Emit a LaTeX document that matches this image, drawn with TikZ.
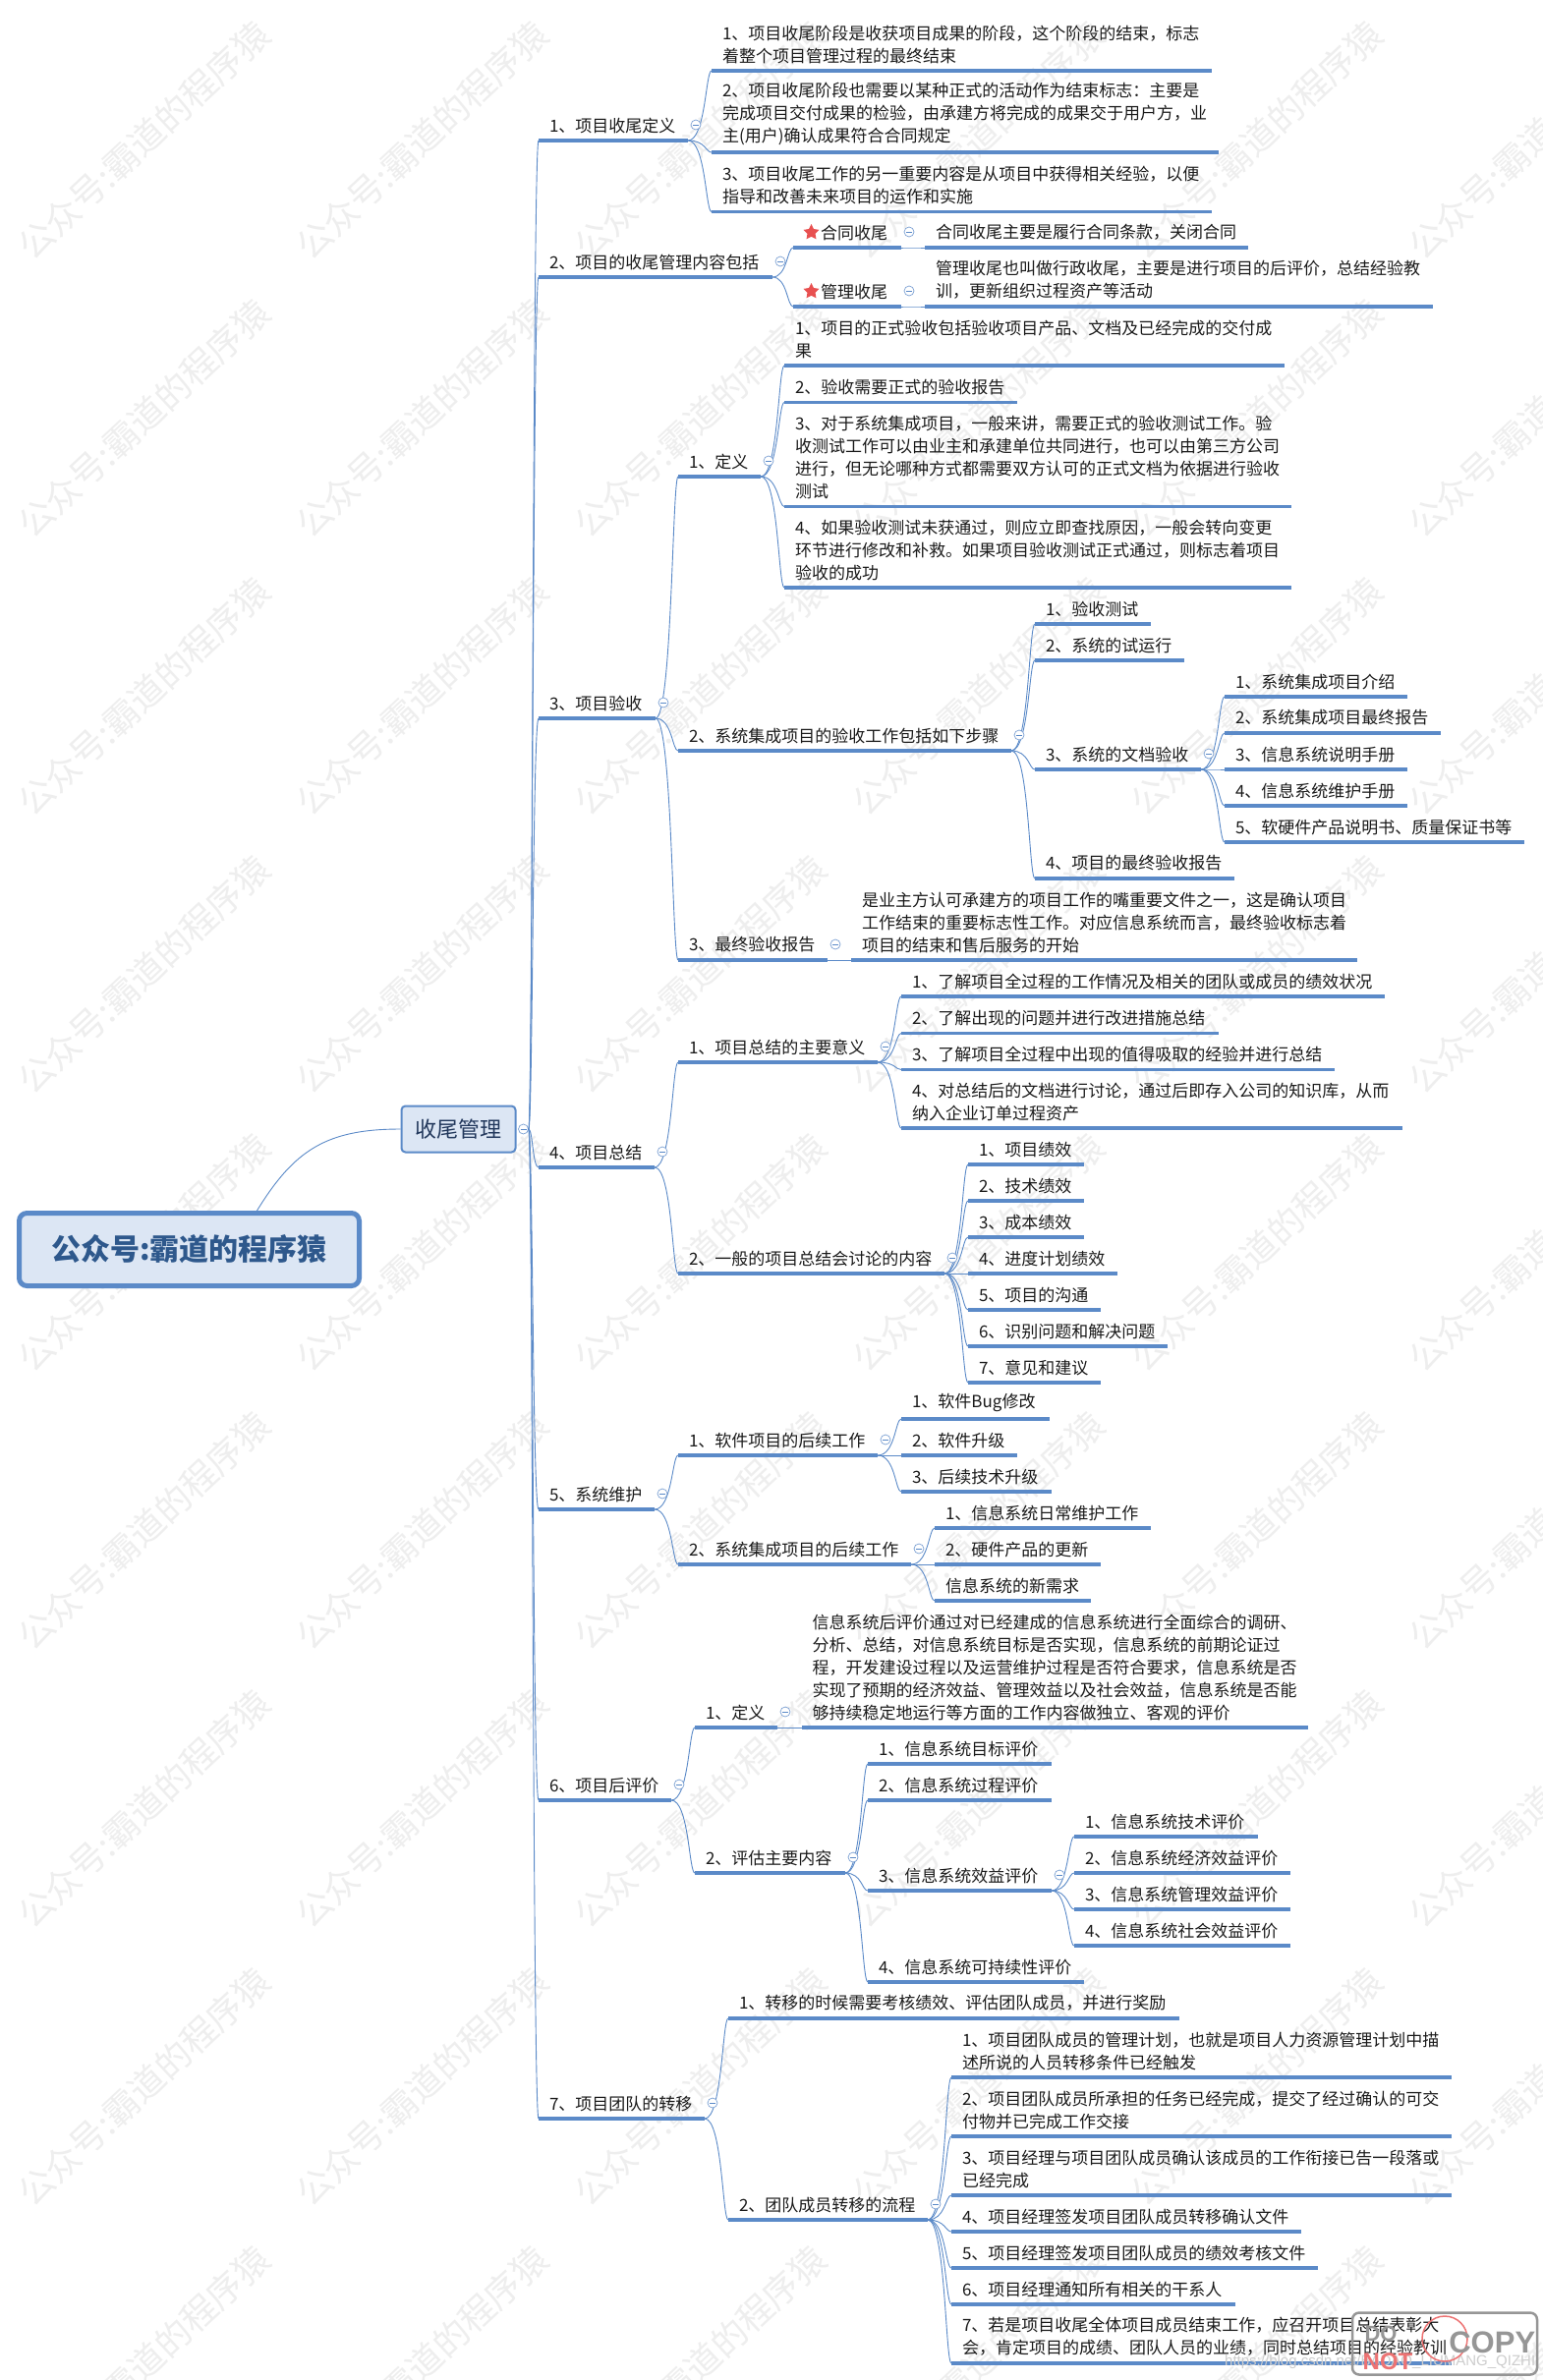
\documentclass[tikz,border=0pt]{standalone}
\usepackage{fontspec}
\usetikzlibrary{calc,shapes.geometric}
\setmainfont{Noto Sans CJK SC}
\newfontfamily\stampfont{Liberation Sans}
\definecolor{ink}{RGB}{26,26,26}
\definecolor{lineblue}{RGB}{91,138,200}
\definecolor{boxfill}{RGB}{220,230,244}
\definecolor{rootink}{RGB}{46,88,140}
\definecolor{boxink}{RGB}{34,56,92}
\definecolor{starred}{RGB}{232,80,80}
\definecolor{markgray}{RGB}{238,238,238}
\definecolor{stampgray}{RGB}{150,150,150}
\definecolor{urlgray}{RGB}{205,205,205}

\begin{document}
\begin{tikzpicture}[x=1pt, y=-1pt, line width=1pt,
  topic/.style={anchor=south west, align=left, inner xsep=11pt, inner ysep=7.5pt, outer sep=0pt, text=ink, font=\fontsize{17}{23}\selectfont},
  uline/.style={draw=lineblue, line width=3.4pt},
  conn/.style={draw=lineblue, line width=0.9pt},
  fold/.style={circle, draw=lineblue!80, fill=white, line width=0.7pt, minimum size=10pt, inner sep=0pt,
    path picture={\draw[lineblue, line width=0.7pt] ([xshift=2pt]path picture bounding box.west) -- ([xshift=-2pt]path picture bounding box.east);}},
  starmark/.style={star, star points=5, star point ratio=2.0, fill=starred, minimum size=17pt, inner sep=0pt},
  wmark/.style={text=markgray, rotate=43, font=\fontsize{36}{36}\selectfont},
]
  \useasboundingbox (0,0) rectangle (1569,2422);
  \fill[white] (0,0) rectangle (1569,2422);
  % watermark tiles
  \foreach \i in {0,...,5}{
    \foreach \j in {0,...,8}{
      \node[wmark] (mark\i\j) at (146+\i*283,143+\j*283) {公众号:霸道的程序猿};
    }
  }
  % centre boxes
  \node[draw=lineblue, line width=5pt, fill=boxfill, rounded corners=8pt, minimum width=346pt, minimum height=74pt,
    text=rootink, font=\fontsize{30}{30}\selectfont\bfseries] (root) at (192.5,1271.5) {公众号:霸道的程序猿};
  \node[draw=lineblue, line width=2pt, fill=boxfill, rounded corners=4pt, minimum width=116pt, minimum height=47pt,
    text=boxink, font=\fontsize{22}{22}\selectfont] (mgmt) at (466.5,1149) {收尾管理};
  \node[fold] (mgmt-fold) at ($(mgmt.east)+(7,0)$) {};
  \draw[conn] ([xshift=69pt]root.north) .. controls +(38,-62) and +(-75,0) .. (mgmt.west);
  % topics: name/left/underline y/right/text
  \foreach \nm/\xl/\yl/\xr/\txt in {
    t1/548/143/700/{1、项目收尾定义},
    t1a/724/72/1233/{1、项目收尾阶段是收获项目成果的阶段，这个阶段的结束，标志\\着整个项目管理过程的最终结束},
    t1b/724/155/1240/{2、项目收尾阶段也需要以某种正式的活动作为结束标志：主要是\\完成项目交付成果的检验，由承建方将完成的成果交于用户方，业\\主(用户)确认成果符合合同规定},
    t1c/724/215.5/1233/{3、项目收尾工作的另一重要内容是从项目中获得相关经验，以便\\指导和改善未来项目的运作和实施},
    t2/548/282/786/{2、项目的收尾管理内容包括},
    t2a/807/252/917/{\hspace*{17pt}合同收尾},
    t2a1/941/252/1270/{合同收尾主要是履行合同条款，关闭合同},
    t2b/807/312/917/{\hspace*{17pt}管理收尾},
    t2b1/941/312/1458/{管理收尾也叫做行政收尾，主要是进行项目的后评价，总结经验教\\训，更新组织过程资产等活动},
    t3/548/731/667/{3、项目验收},
    t3a/690/485/774/{1、定义},
    t3a1/798/372/1307/{1、项目的正式验收包括验收项目产品、文档及已经完成的交付成\\果},
    t3a2/798/409.5/1035/{2、验收需要正式的验收报告},
    t3a3/798/515.5/1314/{3、对于系统集成项目，一般来讲，需要正式的验收测试工作。验\\收测试工作可以由业主和承建单位共同进行，也可以由第三方公司\\进行，但无论哪种方式都需要双方认可的正式文档为依据进行验收\\测试},
    t3a4/798/598/1314/{4、如果验收测试未获通过，则应立即查找原因，一般会转向变更\\环节进行修改和补救。如果项目验收测试正式通过，则标志着项目\\验收的成功},
    t3b/690/764/1029/{2、系统集成项目的验收工作包括如下步骤},
    t3b1/1053/635/1171/{1、验收测试},
    t3b2/1053/672/1205/{2、系统的试运行},
    t3b3/1053/783/1222/{3、系统的文档验收},
    t3b4/1053/894/1256/{4、项目的最终验收报告},
    t3b31/1246/709/1432/{1、系统集成项目介绍},
    t3b32/1246/746/1466/{2、系统集成项目最终报告},
    t3b33/1246/783/1432/{3、信息系统说明手册},
    t3b34/1246/820/1432/{4、信息系统维护手册},
    t3b35/1246/857/1551/{5、软硬件产品说明书、质量保证书等},
    t3c/690/977/842/{3、最终验收报告},
    t3c1/866/977/1381/{是业主方认可承建方的项目工作的嘴重要文件之一，这是确认项目\\工作结束的重要标志性工作。对应信息系统而言，最终验收标志着\\项目的结束和售后服务的开始},
    t4/548/1188/666/{4、项目总结},
    t4a/690/1081/893/{1、项目总结的主要意义},
    t4a1/917/1014/1409/{1、了解项目全过程的工作情况及相关的团队或成员的绩效状况},
    t4a2/917/1051.5/1240/{2、了解出现的问题并进行改进措施总结},
    t4a3/917/1088.5/1358/{3、了解项目全过程中出现的值得吸取的经验并进行总结},
    t4a4/917/1148/1427/{4、对总结后的文档进行讨论，通过后即存入公司的知识库，从而\\纳入企业订单过程资产},
    t4b/690/1296/961/{2、一般的项目总结会讨论的内容},
    t4b1/985/1185/1103/{1、项目绩效},
    t4b2/985/1222/1103/{2、技术绩效},
    t4b3/985/1259/1103/{3、成本绩效},
    t4b4/985/1296/1137/{4、进度计划绩效},
    t4b5/985/1333/1120/{5、项目的沟通},
    t4b6/985/1370/1188/{6、识别问题和解决问题},
    t4b7/985/1407/1120/{7、意见和建议},
    t5/548/1536/666/{5、系统维护},
    t5a/690/1481/893/{1、软件项目的后续工作},
    t5a1/917/1444/1068/{1、软件Bug修改},
    t5a2/917/1481/1035/{2、软件升级},
    t5a3/917/1518/1070/{3、后续技术升级},
    t5b/690/1592/927/{2、系统集成项目的后续工作},
    t5b1/951/1555/1171/{1、信息系统日常维护工作},
    t5b2/951/1592/1120/{2、硬件产品的更新},
    t5b3/951/1629/1110/{信息系统的新需求},
    t6/548/1832/683/{6、项目后评价},
    t6a/707/1758/791/{1、定义},
    t6a1/815.5/1758/1331/{信息系统后评价通过对已经建成的信息系统进行全面综合的调研、\\分析、总结，对信息系统目标是否实现，信息系统的前期论证过\\程，开发建设过程以及运营维护过程是否符合要求，信息系统是否\\实现了预期的经济效益、管理效益以及社会效益，信息系统是否能\\够持续稳定地运行等方面的工作内容做独立、客观的评价},
    t6b/707/1906/860/{2、评估主要内容},
    t6b1/883/1795/1070/{1、信息系统目标评价},
    t6b2/883/1832/1070/{2、信息系统过程评价},
    t6b3/883/1924/1070/{3、信息系统效益评价},
    t6b4/883/2017/1103/{4、信息系统可持续性评价},
    t6b31/1093/1869/1280/{1、信息系统技术评价},
    t6b32/1093/1906/1313/{2、信息系统经济效益评价},
    t6b33/1093/1943/1313/{3、信息系统管理效益评价},
    t6b34/1093/1980/1313/{4、信息系统社会效益评价},
    t7/548/2156/717/{7、项目团队的转移},
    t7a/741/2054/1200/{1、转移的时候需要考核绩效、评估团队成员，并进行奖励},
    t7b/741/2259/944/{2、团队成员转移的流程},
    t7b1/968/2114/1477/{1、项目团队成员的管理计划，也就是项目人力资源管理计划中描\\述所说的人员转移条件已经触发},
    t7b2/968/2174/1477/{2、项目团队成员所承担的任务已经完成，提交了经过确认的可交\\付物并已完成工作交接},
    t7b3/968/2234/1477/{3、项目经理与项目团队成员确认该成员的工作衔接已告一段落或\\已经完成},
    t7b4/968/2271/1324/{4、项目经理签发项目团队成员转移确认文件},
    t7b5/968/2308/1341/{5、项目经理签发项目团队成员的绩效考核文件},
    t7b6/968/2345/1257/{6、项目经理通知所有相关的干系人},
    t7b7/968/2405/1477/{7、若是项目收尾全体项目成员结束工作，应召开项目总结表彰大\\会，肯定项目的成绩、团队人员的业绩，同时总结项目的经验教训}%
  }{
    \node[topic, text width={(\xr-\xl-22)*1pt}] (\nm) at (\xl,\yl) {\txt};
    \draw[uline] (\nm.south west) -- (\nm.south east);
  }
  % stars
  \node[starmark] (t2a-star) at ($(t2a.south west)+(18.5,-15.5)$) {};
  \node[starmark] (t2b-star) at ($(t2b.south west)+(18.5,-15.5)$) {};
  % trunk from the centre box
  \foreach \b in {t1,t2,t3,t4,t5,t6,t7}{
    \draw[conn] (mgmt-fold.east) .. controls ($(mgmt-fold.east -| \b.south west)+(-6,0)$) and ($(\b.south west)+(-6,0)$) .. (\b.south west);
  }
  % branches
  \foreach \a/\kids in {
    t1/{t1a,t1b,t1c}, t2/{t2a,t2b}, t2a/{t2a1}, t2b/{t2b1},
    t3/{t3a,t3b,t3c}, t3a/{t3a1,t3a2,t3a3,t3a4}, t3b/{t3b1,t3b2,t3b3,t3b4},
    t3b3/{t3b31,t3b32,t3b33,t3b34,t3b35}, t3c/{t3c1},
    t4/{t4a,t4b}, t4a/{t4a1,t4a2,t4a3,t4a4}, t4b/{t4b1,t4b2,t4b3,t4b4,t4b5,t4b6,t4b7},
    t5/{t5a,t5b}, t5a/{t5a1,t5a2,t5a3}, t5b/{t5b1,t5b2,t5b3},
    t6/{t6a,t6b}, t6a/{t6a1}, t6b/{t6b1,t6b2,t6b3,t6b4}, t6b3/{t6b31,t6b32,t6b33,t6b34},
    t7/{t7a,t7b}, t7b/{t7b1,t7b2,t7b3,t7b4,t7b5,t7b6,t7b7}%
  }{
    \foreach \b in \kids {
      \draw[conn] (\a.south east) .. controls ($(\a.south east -| \b.south west)+(-6,0)$) and ($(\b.south west)+(-6,0)$) .. (\b.south west);
    }
    \node[fold] (\a-fold) at ($(\a.south east)+(8,-16)$) {};
  }
  % stamp in the corner
  \node[text=urlgray, font=\stampfont\fontsize{15}{15}\selectfont, anchor=east] (url) at (1566,2404) {https://blog.csdn.net/BADAO\_LIUMANG\_QIZHI};
  \node[draw=stampgray, line width=2.5pt, rounded corners=7pt, minimum width=188pt, minimum height=63pt] (stamp) at (1470,2385) {};
  \node[circle, draw=starred!80, line width=1.5pt, minimum size=46pt, inner sep=0pt] (ring) at (1470,2380) {};
  \node[text=stampgray, font=\stampfont\fontsize{31}{31}\selectfont\bfseries, anchor=east] (copy) at (1566,2384) {COPY};
  \node[text=stampgray, font=\stampfont\fontsize{22}{22}\selectfont\bfseries] (stampdo) at (1405,2375) {DO};
  \node[text=starred!80, font=\stampfont\fontsize{24}{24}\selectfont\bfseries] (stampnot) at (1412,2403) {NOT};
\end{tikzpicture}
\end{document}
